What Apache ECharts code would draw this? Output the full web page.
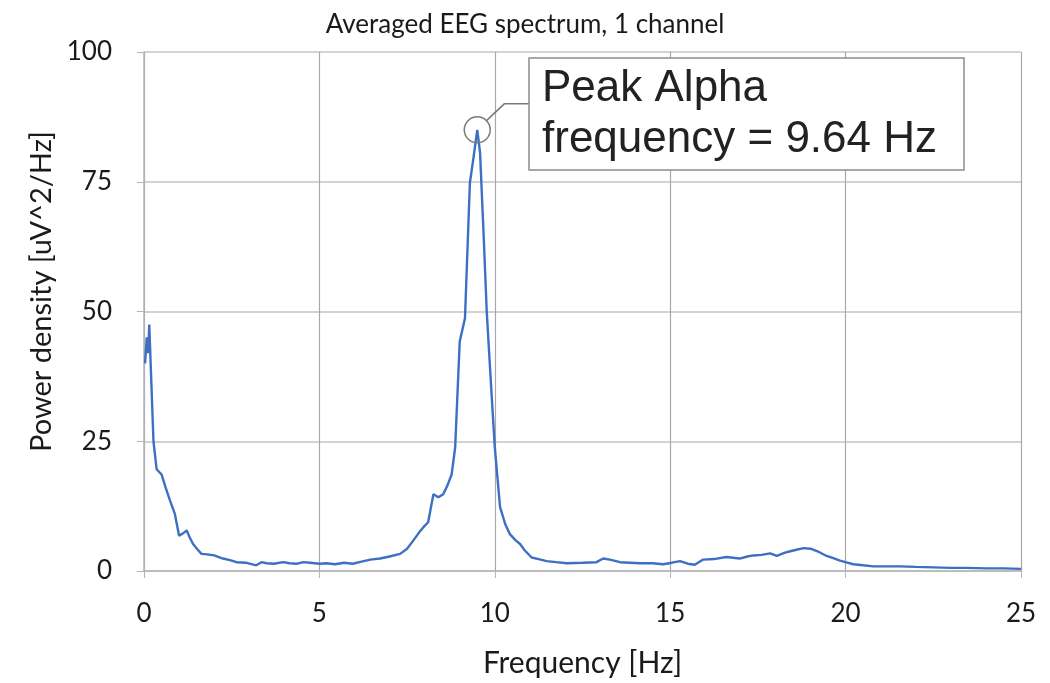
<!DOCTYPE html>
<html>
<head>
<meta charset="utf-8">
<script src="https://cdn.jsdelivr.net/npm/echarts@6/dist/echarts.min.js"></script>
<style>
  html, body { margin: 0; padding: 0; background: #fff; }
  #eeg-chart { width: 1050px; height: 683px; }
</style>
</head>
<body>
<div id="eeg-chart"></div>
<script>
// frequency [Hz] and averaged power density [uV^2/Hz]
var freq = [0.03, 0.08, 0.12, 0.15, 0.2, 0.27, 0.36, 0.5, 0.62, 0.74, 0.88, 1.0, 1.1, 1.22, 1.3, 1.4, 1.52, 1.64, 1.8, 2.0,
    2.25, 2.45, 2.64, 2.9, 3.2, 3.35, 3.5, 3.7, 3.97, 4.15, 4.35, 4.55, 4.73, 5.0, 5.2, 5.45, 5.7, 5.95, 6.2, 6.45,
    6.73, 7.0, 7.3, 7.5, 7.68, 7.85, 7.96, 8.1, 8.25, 8.39, 8.53, 8.65, 8.77, 8.87, 9.0, 9.15, 9.29, 9.4, 9.5, 9.58,
    9.68, 9.77, 9.9, 10.0, 10.15, 10.3, 10.43, 10.58, 10.72, 10.85, 11.05, 11.25, 11.48, 11.75, 12.05, 12.5, 12.9, 13.09, 13.28, 13.57,
    13.85, 14.14, 14.5, 14.8, 15.05, 15.28, 15.5, 15.7, 15.94, 16.25, 16.6, 16.98, 17.2, 17.37, 17.6, 17.85, 18.04, 18.25, 18.42, 18.6,
    18.8, 19.0, 19.2, 19.46, 19.65, 19.84, 20.05, 20.22, 20.5, 20.79, 21.15, 21.55, 22.0, 22.5, 23.0, 23.45, 24.0, 24.5, 25.0];
var power = [40, 45, 42, 47.5, 38, 25, 19.6, 18.6, 16, 13.6, 11, 6.8, 7.2, 7.8, 6.5, 5.2, 4.2, 3.3, 3.2, 3.0,
    2.4, 2.1, 1.7, 1.6, 1.1, 1.7, 1.5, 1.4, 1.7, 1.5, 1.4, 1.7, 1.6, 1.4, 1.5, 1.3, 1.6, 1.4, 1.8, 2.2,
    2.4, 2.8, 3.3, 4.3, 5.9, 7.5, 8.4, 9.4, 14.8, 14.2, 14.8, 16.5, 18.6, 23.8, 44.2, 48.7, 74.8, 80, 85, 80.6,
    65, 50, 35, 23.8, 12.3, 9, 7.1, 6, 5.2, 4, 2.6, 2.3, 1.9, 1.7, 1.5, 1.6, 1.7, 2.4, 2.2, 1.7,
    1.6, 1.5, 1.5, 1.3, 1.6, 1.9, 1.4, 1.2, 2.2, 2.3, 2.7, 2.4, 2.8, 3.0, 3.1, 3.4, 2.9, 3.5, 3.8, 4.1,
    4.4, 4.3, 3.8, 2.9, 2.5, 2.0, 1.6, 1.3, 1.1, 0.9, 0.9, 0.9, 0.8, 0.7, 0.6, 0.6, 0.5, 0.5, 0.4];
var peakText = ['Peak Alpha', 'frequency = 9.64 Hz'];

var labelFont = 'Lato';
var chart = echarts.init(document.getElementById('eeg-chart'));

var seriesData = [];
for (var i = 0; i < freq.length; i++) {
    seriesData.push([freq[i], power[i]]);
}

var option = {
    animation: false,
    backgroundColor: '#fff',
    title: {
        text: 'Averaged EEG spectrum, 1 channel',
        left: 'center',
        top: 7,
        textStyle: { fontFamily: labelFont, fontSize: 26, fontWeight: 'normal', color: '#1a1a1a' }
    },
    grid: { left: 144, right: 29, top: 52, bottom: 109 },
    xAxis: {
        type: 'value',
        min: 0,
        max: 25,
        interval: 5,
        name: 'Frequency [Hz]',
        nameLocation: 'middle',
        nameGap: 77,
        nameTextStyle: { fontFamily: labelFont, fontSize: 30, color: '#1a1a1a' },
        axisLine: { show: true, lineStyle: { color: '#b5b5b5', width: 1.5 } },
        axisTick: { show: true, length: 7, lineStyle: { color: '#b5b5b5' } },
        axisLabel: { fontFamily: labelFont, fontSize: 26, color: '#1a1a1a', margin: 30 },
        splitLine: { show: true, lineStyle: { color: '#a8a8a8', width: 1.2 } }
    },
    yAxis: {
        type: 'value',
        min: 0,
        max: 100,
        interval: 25,
        name: 'Power density [uV^2/Hz]',
        nameLocation: 'middle',
        nameGap: 86,
        nameTextStyle: { fontFamily: labelFont, fontSize: 29, color: '#1a1a1a', padding: [0, 0, 0, 40] },
        axisLine: { show: true, lineStyle: { color: '#b5b5b5', width: 1.5 } },
        axisTick: { show: true, length: 7, lineStyle: { color: '#b5b5b5' } },
        axisLabel: { fontFamily: labelFont, fontSize: 26, color: '#1a1a1a', margin: 32 },
        splitLine: { show: true, lineStyle: { color: '#c4c4c4', width: 1.5 } }
    },
    series: [
        {
            type: 'line',
            data: seriesData,
            showSymbol: false,
            lineStyle: { color: '#3d6fc2', width: 2.4 },
            itemStyle: { color: '#3d6fc2' },
            markPoint: {
                symbol: 'circle',
                symbolSize: 26,
                itemStyle: { color: 'rgba(0,0,0,0)', borderColor: '#7a7a7a', borderWidth: 1.5 },
                label: { show: false },
                data: [{ type: 'max' }]
            }
        }
    ]
};
chart.setOption(option);

// callout box, tied to the peak point through the axes
var peakIdx = power.indexOf(Math.max.apply(null, power));
var p = chart.convertToPixel({ gridIndex: 0 }, [freq[peakIdx], power[peakIdx]]);
var boxLeft = 529;
chart.setOption({
    graphic: [
        {
            type: 'polyline',
            shape: { points: [[p[0] + 9, p[1] - 9], [p[0] + 27, p[1] - 26], [boxLeft, p[1] - 26]] },
            style: { stroke: '#7a7a7a', lineWidth: 1.5, fill: null },
            z: 10
        },
        {
            type: 'rect',
            shape: { x: boxLeft, y: 58, width: 435, height: 112 },
            style: { fill: '#fff', stroke: '#8c8c8c', lineWidth: 1.5 },
            z: 10
        },
        {
            type: 'text',
            x: 542,
            y: 63,
            style: {
                text: peakText.join('\n'),
                font: '44px "Liberation Sans"',
                lineHeight: 51,
                fill: '#222'
            },
            z: 11
        }
    ]
});
</script>
</body>
</html>
